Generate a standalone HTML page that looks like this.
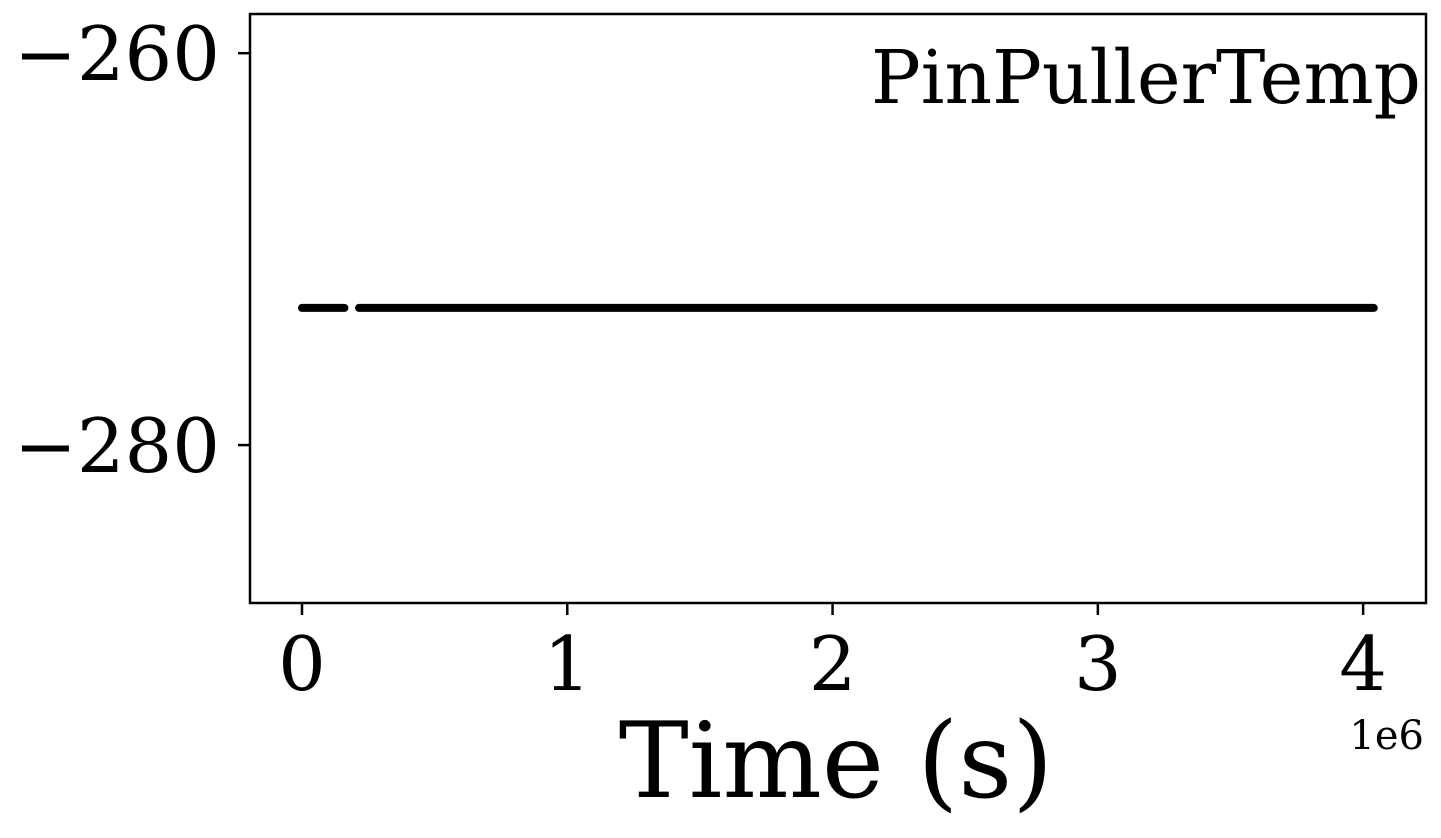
<!DOCTYPE html>
<html><head><meta charset="utf-8"><style>
html,body{margin:0;padding:0;background:#fff;width:1441px;height:838px;overflow:hidden}
text{font-family:"DejaVu Serif","Liberation Serif",serif;fill:#000}
</style></head><body>
<svg id="chart" width="1441" height="838" xmlns="http://www.w3.org/2000/svg">
<rect x="250" y="14" width="1176" height="589" fill="#fff"/>
<g id="marks"></g>
<g id="axes"></g>
<rect x="250" y="14" width="1176" height="589" fill="none" stroke="#000" stroke-width="2.5"/>
<text x="1421" y="103" font-size="74" text-anchor="end">PinPullerTemp</text>
<text x="836" y="797" font-size="105" text-anchor="middle">Time (s)</text>
<text x="1424" y="749" font-size="40" text-anchor="end">1e6</text>
</svg>
<script>
const xTicks=[0,1,2,3,4];
const xTickLabels=["0","1","2","3","4"];
const yTicks=[-260,-280];
const yTickLabels=["\u2212260","\u2212280"];
const segStart=[0,0.215];
const segEnd=[0.16,4.04];
const segValue=[-273,-273];
const X0=250,X1=1426,Y0=14,Y1=603;
const xMin=-0.196,xMax=4.237,yMin=-288.06,yMax=-258.0;
function sx(v){return X0+(v-xMin)/(xMax-xMin)*(X1-X0);}
function sy(v){return Y1-(v-yMin)/(yMax-yMin)*(Y1-Y0);}
const NS="http://www.w3.org/2000/svg";
const axes=document.getElementById('axes'),marks=document.getElementById('marks');
xTicks.forEach((t,i)=>{
 const l=document.createElementNS(NS,'line');
 
 
 l.setAttribute('x1',sx(t));l.setAttribute('x2',sx(t));l.setAttribute('y1',603);l.setAttribute('y2',615);
 l.setAttribute('stroke','#000');l.setAttribute('stroke-width','2.5');axes.appendChild(l);
 const tx=document.createElementNS(NS,'text');
 
 
 tx.setAttribute('x',sx(t));tx.setAttribute('y',690);tx.setAttribute('font-size','75');tx.setAttribute('text-anchor','middle');
 tx.textContent=xTickLabels[i];axes.appendChild(tx);
});
yTicks.forEach((t,i)=>{
 const l=document.createElementNS(NS,'line');
 
 
 l.setAttribute('x1',238);l.setAttribute('x2',250);l.setAttribute('y1',sy(t));l.setAttribute('y2',sy(t));
 l.setAttribute('stroke','#000');l.setAttribute('stroke-width','2.5');axes.appendChild(l);
 const tx=document.createElementNS(NS,'text');
 
 
 tx.setAttribute('x',220);tx.setAttribute('y',sy(t)+27);tx.setAttribute('font-size','75');tx.setAttribute('text-anchor','end');
 tx.textContent=yTickLabels[i];axes.appendChild(tx);
});
segStart.forEach((s,i)=>{
 const l=document.createElementNS(NS,'line');
 
 
 l.setAttribute('x1',sx(s));l.setAttribute('x2',sx(segEnd[i]));
 l.setAttribute('y1',sy(segValue[i]));l.setAttribute('y2',sy(segValue[i]));
 l.setAttribute('stroke','#000');l.setAttribute('stroke-width','8');l.setAttribute('stroke-linecap','round');
 marks.appendChild(l);
});
</script>
</body></html>
